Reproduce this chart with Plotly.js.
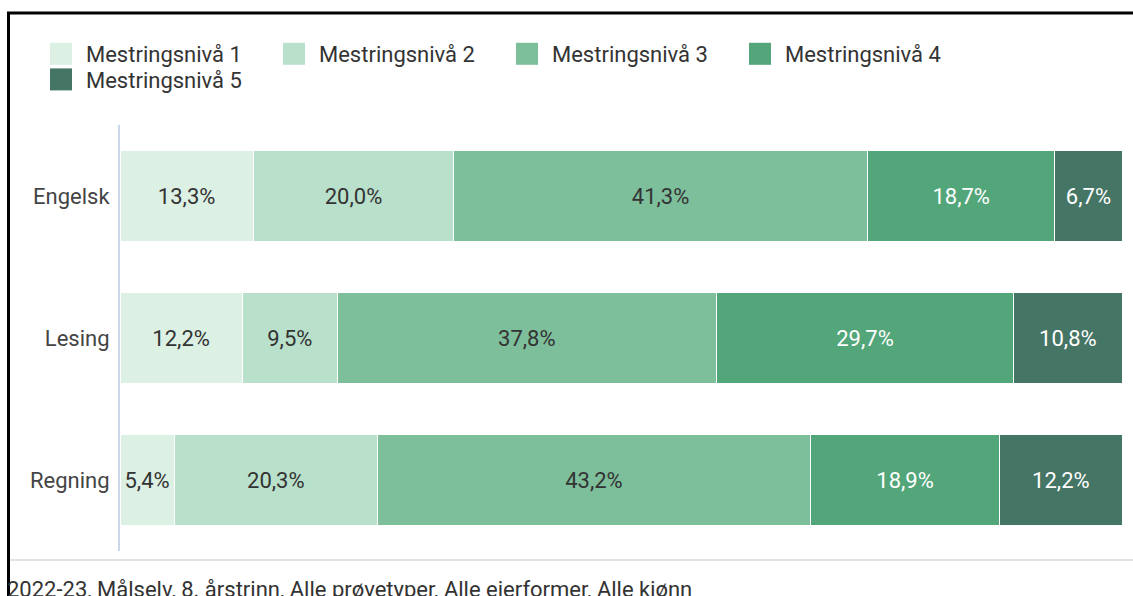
<!DOCTYPE html>
<html>
<head>
<meta charset="utf-8">
<script src="https://cdn.plot.ly/plotly-3.0.1.min.js"></script>
<style>
  html, body { margin: 0; padding: 0; background: #ffffff; }
  #chart { width: 1133px; height: 596px; }
</style>
</head>
<body>
<div id="chart"></div>
<script>
// ---- Data ----
const categories = ["Engelsk", "Lesing", "Regning"];
const levelNames = ["Mestringsnivå 1", "Mestringsnivå 2", "Mestringsnivå 3", "Mestringsnivå 4", "Mestringsnivå 5"];
const level1 = [13.3, 12.2, 5.4];
const level2 = [20.0, 9.5, 20.3];
const level3 = [41.3, 37.8, 43.2];
const level4 = [18.7, 29.7, 18.9];
const level5 = [6.7, 10.8, 12.2];
const caption = "2022-23, Målselv, 8. årstrinn, Alle prøvetyper, Alle eierformer, Alle kjønn";

// ---- Styles ----
const colors = ["#dcf0e4", "#b9e0cb", "#7dbe9b", "#52a67a", "#457564"];
const textColors = ["#333333", "#333333", "#333333", "#ffffff", "#ffffff"];
const FONT = "Roboto, 'Noto Sans', sans-serif";
const FS = 22;

const series = [level1, level2, level3, level4, level5];
const traces = series.map((vals, i) => ({
  type: "bar",
  orientation: "h",
  name: levelNames[i],
  y: categories,
  x: vals,
  marker: { color: colors[i], line: { color: "#ffffff", width: 1 } },
  texttemplate: "%{x:.1f}%",
  textposition: "inside",
  insidetextanchor: "middle",
  textangle: 0,
  constraintext: "none",
  textfont: { family: FONT, size: FS, color: textColors[i] },
  hoverinfo: "skip"
}));

const L = 120, R = 11, T = 125, B = 45;
const W = 1133, H = 596;
const pw = W - L - R, ph = H - T - B;
const px = (x) => (x - L) / pw;          // pixel -> paper x
const py = (y) => (H - B - y) / ph;      // pixel -> paper y

const layout = {
  width: W, height: H,
  margin: { l: L, r: R, t: T, b: B, pad: 0 },
  paper_bgcolor: "#ffffff",
  plot_bgcolor: "#ffffff",
  barmode: "stack",
  bargap: 0.366,
  separators: ",.",
  font: { family: FONT, size: FS, color: "#333333" },
  showlegend: true,
  legend: {
    orientation: "h",
    x: px(46), xanchor: "left",
    y: py(33), yanchor: "top",
    traceorder: "normal",
    entrywidth: 188,
    entrywidthmode: "pixels",
    font: { family: FONT, size: FS, color: "#333333" },
    itemclick: false, itemdoubleclick: false,
    bgcolor: "rgba(0,0,0,0)"
  },
  xaxis: {
    range: [0, 100],
    showgrid: false, zeroline: false, showline: false,
    showticklabels: false, ticks: "", fixedrange: true
  },
  yaxis: {
    type: "category",
    categoryorder: "array",
    categoryarray: categories,
    autorange: "reversed",
    showgrid: false, zeroline: false,
    showline: true, linecolor: "#ccd6eb", linewidth: 2,
    ticks: "", ticklabelstandoff: 4,
    tickfont: { family: FONT, size: FS, color: "#444444" },
    fixedrange: true
  },
  shapes: [
    // separator line above caption
    { type: "line", xref: "paper", yref: "paper", x0: px(8), x1: px(1133), y0: py(560), y1: py(560),
      line: { color: "#e3e3e3", width: 2 } },
    // black frame top
    { type: "line", xref: "paper", yref: "paper", x0: px(7), x1: px(1133), y0: py(13), y1: py(13),
      line: { color: "#000000", width: 3 } },
    // black frame left
    { type: "line", xref: "paper", yref: "paper", x0: px(8.5), x1: px(8.5), y0: py(12), y1: py(596),
      line: { color: "#000000", width: 3 } }
  ],
  annotations: [
    { text: caption, xref: "paper", yref: "paper", x: px(5), y: py(589),
      xanchor: "left", yanchor: "middle", showarrow: false,
      font: { family: FONT, size: FS, color: "#333333" } }
  ]
};

Plotly.newPlot("chart", traces, layout, { displayModeBar: false, staticPlot: true }).then(() => {
  document.querySelectorAll(".legend .legendpoints path").forEach(p => {
    p.setAttribute("d", "M6,11H-16V-11H6Z");
    p.style.strokeWidth = "0";
  });
  // tighten the legend row spacing to match the reference
  const items = document.querySelectorAll(".legend .traces");
  if (items.length === 5) {
    const last = items[4];
    const t = last.getAttribute("transform") || "";
    const m = t.match(/translate\(\s*([-\d.]+)[ ,]+([-\d.]+)\s*\)/);
    if (m) last.setAttribute("transform", "translate(" + m[1] + "," + (parseFloat(m[2]) - 6) + ")");
  }
});
</script>
</body>
</html>
